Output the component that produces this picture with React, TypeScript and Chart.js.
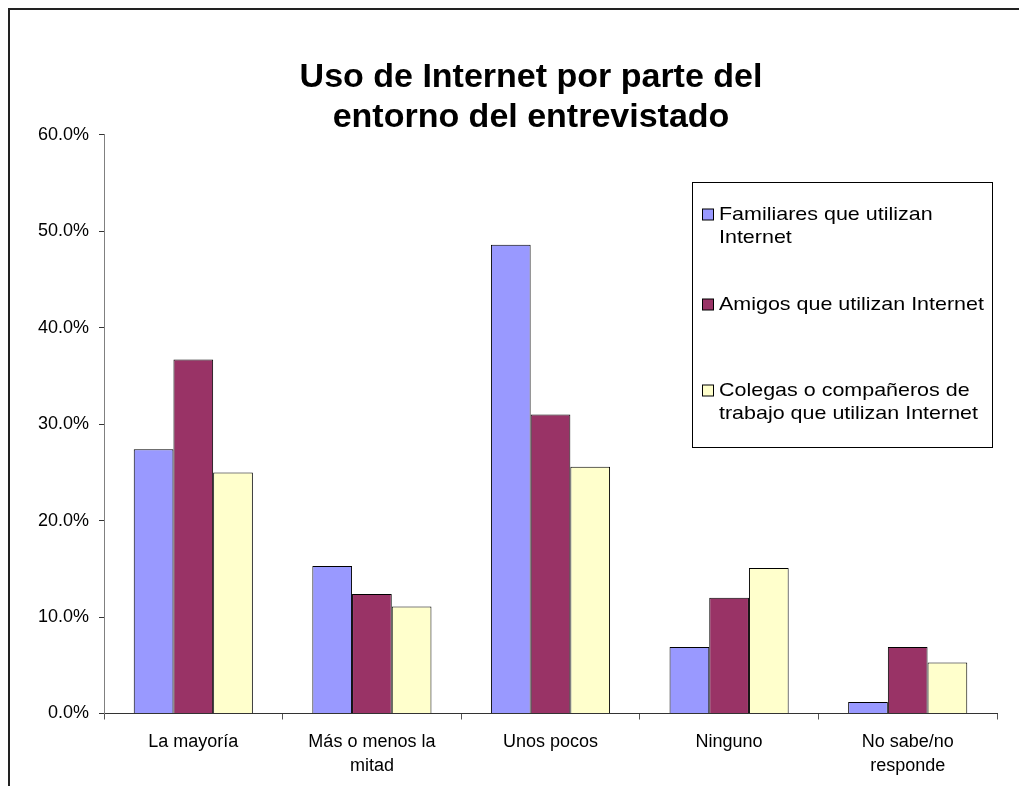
import React, { useEffect, useRef } from "react";
import { Chart, registerables } from "chart.js";

Chart.register(...registerables);

const categories: string[][] = [
  ["La mayoría"],
  ["Más o menos la", "mitad"],
  ["Unos pocos"],
  ["Ninguno"],
  ["No sabe/no", "responde"],
];
const familiares = [27.4, 15.3, 48.6, 6.9, 1.2];
const amigos = [36.7, 12.4, 31.0, 12.0, 6.9];
const colegas = [25.0, 11.1, 25.6, 15.1, 5.3];
const seriesNames = [
  "Familiares que utilizan Internet",
  "Amigos que utilizan Internet",
  "Colegas o compañeros de trabajo que utilizan Internet",
];
const legendLines: string[][] = [
  ["Familiares que utilizan", "Internet"],
  ["Amigos que utilizan Internet"],
  ["Colegas o compañeros de", "trabajo que utilizan Internet"],
];
const titleLines = ["Uso de Internet por parte del", "entorno del entrevistado"];
const yMin = 0;
const yMax = 60;
const yStep = 10;

const FONT = "'Liberation Sans', Arial, sans-serif";

const titleShiftPlugin = {
  id: "titleShift",
  afterLayout(chart: any) {
    const tb = chart.titleBlock;
    if (tb) {
      tb.left = 53;
      tb.right = 989;
      tb.width = tb.right - tb.left;
    }
  },
};

const legendBoxPlugin = {
  id: "legendBox",
  afterDraw(chart: any) {
    const ctx = chart.ctx;
    const box = { x: 682.5, y: 172.5, w: 300, h: 265 };
    const lineStarts = [205, 295, 381];
    const lh = 22.5;
    const sx = 1.13;
    ctx.save();
    ctx.strokeStyle = "#000";
    ctx.lineWidth = 1;
    ctx.strokeRect(box.x, box.y, box.w, box.h);
    chart.data.datasets.forEach((ds: any, i: number) => {
      const y0 = lineStarts[i];
      ctx.fillStyle = ds.backgroundColor;
      ctx.fillRect(692.5, y0 - 6, 11, 11);
      ctx.strokeStyle = "#000";
      ctx.strokeRect(692.5, y0 - 6, 11, 11);
      ctx.fillStyle = "#000";
      legendLines[i].forEach((t, j) => {
        ctx.save();
        ctx.translate(709, y0 + j * lh);
        ctx.scale(sx, 1);
        ctx.font = `19px ${FONT}`;
        ctx.textBaseline = "middle";
        ctx.textAlign = "left";
        ctx.fillText(t, 0, 0);
        ctx.restore();
      });
    });
    ctx.restore();
  },
};

export default function App() {
  const ref = useRef<HTMLCanvasElement>(null);
  useEffect(() => {
    const chart = new Chart(ref.current!, {
      type: "bar",
      data: {
        labels: categories,
        datasets: [
          { label: seriesNames[0], data: familiares, backgroundColor: "#9999FF" },
          { label: seriesNames[1], data: amigos, backgroundColor: "#993366" },
          { label: seriesNames[2], data: colegas, backgroundColor: "#FFFFCC" },
        ].map((d) => ({
          ...d,
          borderColor: "#000",
          borderWidth: 1,
          categoryPercentage: 0.667,
          barPercentage: 1,
        })),
      },
      options: {
        animation: false,
        responsive: true,
        maintainAspectRatio: false,
        layout: { padding: { left: 0, right: 22, top: 0, bottom: 0 } },
        plugins: {
          legend: { display: false },
          tooltip: { enabled: false },
          title: {
            display: true,
            text: titleLines,
            color: "#000",
            font: { family: FONT, size: 34, weight: "bold", lineHeight: 1.18 },
            padding: { top: 47.5, bottom: -2.8 },
          },
        },
        scales: {
          x: {
            afterFit: (s: any) => {
              s.height = 72.5;
            },
            grid: {
              offset: true,
              drawOnChartArea: false,
              drawTicks: true,
              tickLength: 6,
              tickColor: "#555",
            },
            border: { color: "#333", width: 1 },
            ticks: {
              color: "#000",
              padding: 11,
              maxRotation: 0,
              autoSkip: false,
              font: { family: FONT, size: 18, lineHeight: 1.3 },
            },
          },
          y: {
            min: yMin,
            max: yMax,
            afterFit: (s: any) => {
              s.width = 94;
            },
            grid: {
              drawOnChartArea: false,
              drawTicks: true,
              tickLength: 5,
              tickColor: "#333",
            },
            border: { color: "#808080", width: 1 },
            ticks: {
              stepSize: yStep,
              color: "#000",
              padding: 10,
              font: { family: FONT, size: 18 },
              callback: (v: any) => Number(v).toFixed(1) + "%",
            },
          },
        },
      },
      plugins: [titleShiftPlugin, legendBoxPlugin],
    });
    return () => chart.destroy();
  }, []);

  return (
    <>
      <div
        style={{
          position: "fixed",
          left: 8,
          top: 8,
          width: 2000,
          height: 2000,
          borderTop: "2px solid #222",
          borderLeft: "2px solid #222",
          background: "#fff",
        }}
      />
      <div style={{ position: "fixed", left: 10, top: 10, width: 1009, height: 776 }}>
        <canvas ref={ref} />
      </div>
    </>
  );
}
